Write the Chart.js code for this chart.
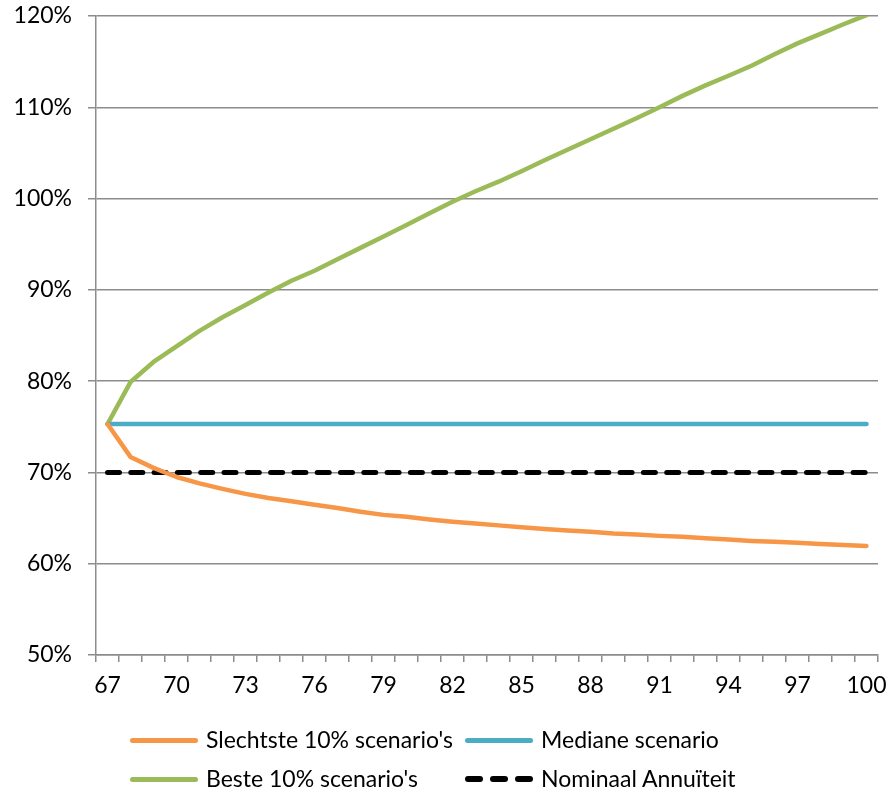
<!DOCTYPE html>
<html>
<head>
<meta charset="utf-8">
<script src="https://cdn.jsdelivr.net/npm/chart.js@4"></script>
<style>
  html, body { margin: 0; padding: 0; background: #fff; }
  #wrap { position: relative; width: 889px; height: 792px; }
  canvas { position: absolute; left: 0; top: 0; }
  .lg { position: absolute; font-family: Lato, "Open Sans", sans-serif; font-size: 23px; color: #000; white-space: nowrap; line-height: 26px; }
  .sw { position: absolute; height: 5px; border-radius: 3px; }
</style>
</head>
<body>
<div id="wrap">
  <canvas id="c" width="889" height="792"></canvas>
  <div id="legend"></div>
</div>
<script>
const ages = [67,68,69,70,71,72,73,74,75,76,77,78,79,80,81,82,83,84,85,86,87,88,89,90,91,92,93,94,95,96,97,98,99,100];
const worst = [75.3,71.7,70.5,69.5,68.8,68.2,67.65,67.2,66.85,66.45,66.1,65.7,65.35,65.15,64.85,64.6,64.4,64.2,64.0,63.8,63.65,63.5,63.3,63.2,63.05,62.95,62.8,62.65,62.5,62.4,62.3,62.15,62.05,61.95];
const median = [75.3,75.3,75.3,75.3,75.3,75.3,75.3,75.3,75.3,75.3,75.3,75.3,75.3,75.3,75.3,75.3,75.3,75.3,75.3,75.3,75.3,75.3,75.3,75.3,75.3,75.3,75.3,75.3,75.3,75.3,75.3,75.3,75.3,75.3];
const best = [75.3,79.9,82.1,83.8,85.5,87.0,88.35,89.7,91.0,92.1,93.35,94.6,95.85,97.1,98.4,99.65,100.8,101.85,103.0,104.2,105.35,106.5,107.65,108.8,110.0,111.25,112.4,113.45,114.55,115.8,117.0,118.05,119.1,120.1];
const nominal = [70,70,70,70,70,70,70,70,70,70,70,70,70,70,70,70,70,70,70,70,70,70,70,70,70,70,70,70,70,70,70,70,70,70];
const seriesNames = ["Slechtste 10% scenario's", "Mediane scenario", "Beste 10% scenario's", "Nominaal Annuïteit"];
const yTicks = [50,60,70,80,90,100,110,120];

const FONT = 'Lato, "Open Sans", sans-serif';
const GRID = '#8c8c8c';
const colors = ['#F79646', '#4BACC6', '#9BBB59', '#000000'];

const ctx = document.getElementById('c').getContext('2d');
const chart = new Chart(ctx, {
  type: 'line',
  data: {
    labels: ages.map(String),
    datasets: [
      { label: seriesNames[0], data: worst, borderColor: colors[0], borderWidth: 4.5 },
      { label: seriesNames[1], data: median, borderColor: colors[1], borderWidth: 4.5 },
      { label: seriesNames[2], data: best, borderColor: colors[2], borderWidth: 4.5 },
      { label: seriesNames[3], data: nominal, borderColor: colors[3], borderWidth: 5, borderDash: [12, 11.3] }
    ].map(d => Object.assign({ pointRadius: 0, tension: 0, fill: false, borderCapStyle: 'round', borderJoinStyle: 'round' }, d))
  },
  options: {
    responsive: false,
    animation: false,
    devicePixelRatio: 1,
    layout: { padding: { top: 16, right: 11, bottom: 0, left: 0 } },
    plugins: { legend: { display: false }, tooltip: { enabled: false } },
    scales: {
      x: {
        type: 'category',
        offset: true,
        grid: { display: true, offset: true, drawOnChartArea: false, drawTicks: true, tickLength: 7, color: GRID, lineWidth: 1.5 },
        border: { display: true, color: GRID, width: 1.5 },
        ticks: {
          autoSkip: false, maxRotation: 0, padding: 10,
          color: '#000', font: { family: FONT, size: 23 },
          callback: function(v, i) { return i % 3 === 0 ? this.getLabelForValue(v) : ''; }
        },
        afterFit: s => { s.height = 792 - 655; s.paddingLeft = 0; s.paddingRight = 0; }
      },
      y: {
        min: 50, max: 120,
        afterBuildTicks: s => { s.ticks = yTicks.map(v => ({ value: v })); },
        grid: { color: GRID, lineWidth: 1.5, tickLength: 8, drawTicks: true },
        border: { display: true, color: GRID, width: 1.5 },
        ticks: { padding: 16, color: '#000', font: { family: FONT, size: 23 }, callback: v => v + '%' },
        afterFit: s => { s.width = 96; s.paddingTop = 0; s.paddingBottom = 0; }
      }
    }
  }
});

// HTML legend in a 2x2 grid, styles taken from the datasets
const leg = document.getElementById('legend');
const pos = [ [130, 740], [465, 740], [130, 779], [465, 779] ];
chart.data.datasets.forEach((ds, i) => {
  const [x, y] = pos[i];
  if (ds.borderDash) {
    for (let k = 0; k < 3; k++) {
      const d = document.createElement('div');
      d.className = 'sw';
      d.style.cssText = `left:${x + k * 25}px;top:${y - 3}px;width:18px;height:6px;background:${ds.borderColor}`;
      leg.appendChild(d);
    }
  } else {
    const d = document.createElement('div');
    d.className = 'sw';
    d.style.cssText = `left:${x}px;top:${y - 2.5}px;width:68px;background:${ds.borderColor}`;
    leg.appendChild(d);
  }
  const t = document.createElement('div');
  t.className = 'lg';
  t.textContent = ds.label;
  t.style.left = (x + 76) + 'px';
  t.style.top = (y - 14) + 'px';
  leg.appendChild(t);
});
</script>
</body>
</html>
